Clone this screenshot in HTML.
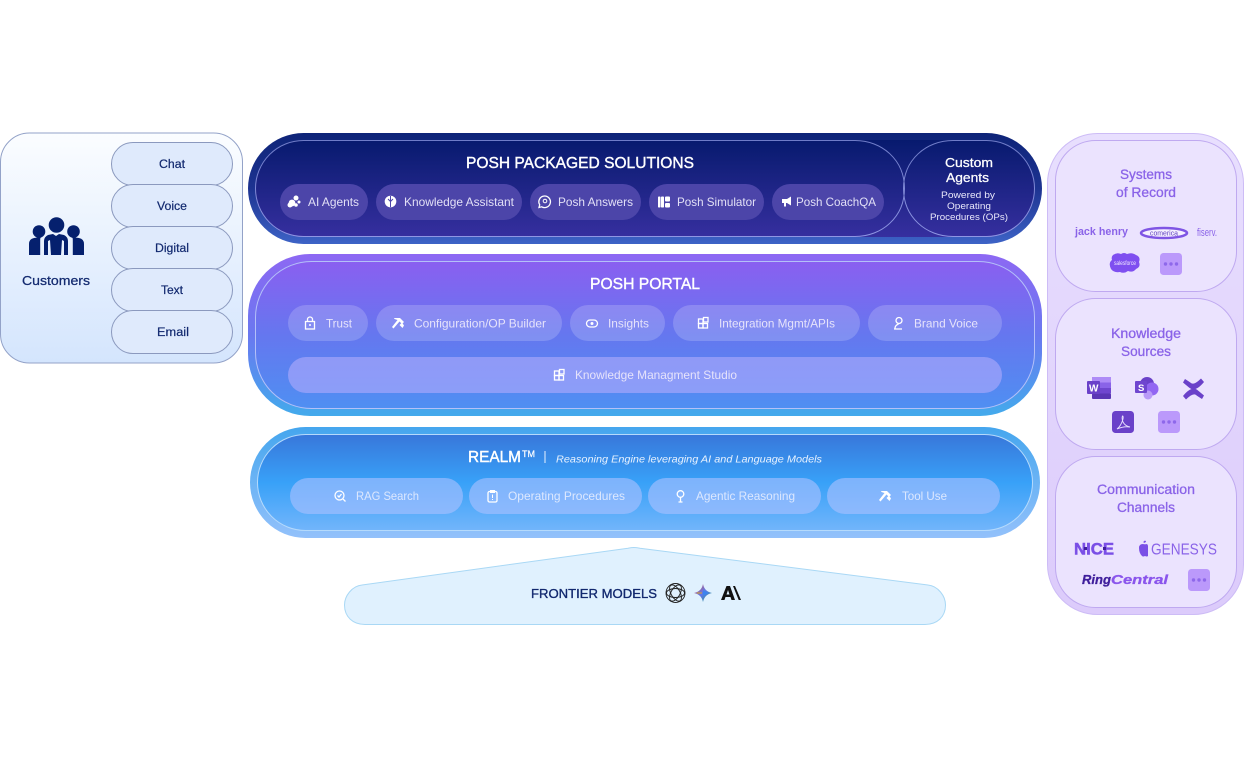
<!DOCTYPE html>
<html><head><meta charset="utf-8"><style>
html,body{margin:0;padding:0;background:#fff;width:1244px;height:758px;overflow:hidden}
svg{display:block;font-family:"Liberation Sans",sans-serif}
.h{fill:#fff;font-size:16px;stroke:#fff;stroke-width:.4}
.c{fill:#e2e0f6;font-size:12px}
.p{fill:#e6e3fb;font-size:12px}
.r{fill:#dce8fe;font-size:12px}
.k{fill:#12296f;font-size:11.5px;stroke:#12296f;stroke-width:.2}
.t{fill:#8a63e8;font-size:13.5px;stroke:#8a63e8;stroke-width:.3}
.chipD{fill:#4c45a9}
.chipP{fill:#fff;fill-opacity:.18}
.chipR{fill:#a9c0ff;fill-opacity:.62}
.ic{fill:none;stroke:#fff;stroke-width:1.3}
</style></head><body>
<svg width="1244" height="758" viewBox="0 0 1244 758" xmlns="http://www.w3.org/2000/svg">
<defs>
<linearGradient id="cu" x1="0" y1="0" x2="0" y2="1"><stop offset="0" stop-color="#fbfdff"/><stop offset="1" stop-color="#d4e5fd"/></linearGradient>
<linearGradient id="d1" x1="0" y1="0" x2="0" y2="1"><stop offset="0" stop-color="#0e2478"/><stop offset=".5" stop-color="#1d3391"/><stop offset="1" stop-color="#3d63c6"/></linearGradient>
<linearGradient id="d2" x1="0" y1="0" x2="0" y2="1"><stop offset="0" stop-color="#071a6e"/><stop offset="1" stop-color="#362f9f"/></linearGradient>
<linearGradient id="ds" gradientUnits="userSpaceOnUse" x1="0" y1="140" x2="0" y2="237"><stop offset="0" stop-color="#6f7cc8"/><stop offset="1" stop-color="#8f96e4"/></linearGradient>
<linearGradient id="p1" x1="0" y1="0" x2="0" y2="1"><stop offset="0" stop-color="#8d68f3"/><stop offset=".5" stop-color="#6a78f0"/><stop offset="1" stop-color="#43aaec"/></linearGradient>
<linearGradient id="p2" x1="0" y1="0" x2="0" y2="1"><stop offset="0" stop-color="#8a5ff0"/><stop offset=".5" stop-color="#6577ef"/><stop offset="1" stop-color="#4f8ff2"/></linearGradient>
<linearGradient id="r1" x1="0" y1="0" x2="0" y2="1"><stop offset="0" stop-color="#45a6ee"/><stop offset="1" stop-color="#93c1fb"/></linearGradient>
<linearGradient id="r2" x1="0" y1="0" x2="0" y2="1"><stop offset="0" stop-color="#3877da"/><stop offset=".5" stop-color="#38a1f8"/><stop offset="1" stop-color="#72b5fb"/></linearGradient>
<linearGradient id="ro" x1="0" y1="0" x2="0" y2="1"><stop offset="0" stop-color="#e8dffe"/><stop offset="1" stop-color="#dccbfb"/></linearGradient>
<linearGradient id="gem" x1="0" y1="0" x2="1" y2="1"><stop offset="0" stop-color="#e0564a"/><stop offset=".5" stop-color="#5f78ea"/><stop offset="1" stop-color="#1f9e7a"/></linearGradient>
</defs>

<!-- Customers -->
<rect x=".5" y="133" width="242" height="230" rx="29" fill="url(#cu)" stroke="#93a2c8"/>
<g fill="#dfeafc" stroke="#8b99be">
<rect x="111.500" y="142.500" width="121" height="43" rx="21.500"/>
<rect x="111.500" y="184.500" width="121" height="43" rx="21.500"/>
<rect x="111.500" y="226.500" width="121" height="43" rx="21.500"/>
<rect x="111.500" y="268.500" width="121" height="43" rx="21.500"/>
<rect x="111.500" y="310.500" width="121" height="43" rx="21.500"/>
</g>
<text class="k" x="159" y="168" textLength="26" lengthAdjust="spacingAndGlyphs">Chat</text>
<text class="k" x="157" y="210" textLength="30" lengthAdjust="spacingAndGlyphs">Voice</text>
<text class="k" x="155" y="252" textLength="34" lengthAdjust="spacingAndGlyphs">Digital</text>
<text class="k" x="161" y="294" textLength="22" lengthAdjust="spacingAndGlyphs">Text</text>
<text class="k" x="157" y="336" textLength="32" lengthAdjust="spacingAndGlyphs">Email</text>
<g fill="#05206e">
<circle cx="39" cy="231.500" r="6.300"/><circle cx="56.500" cy="225" r="7.800"/><circle cx="73.500" cy="231.500" r="6.300"/>
<path d="M29 255v-11q0-5 5-6l7-1q-.8 1-.8 3v15zM84 255v-11q0-5-5-6l-7-1q.8 1 .8 3v15z"/>
<path d="M44 255v-14q0-4 4-6l5-1 3 2 3-2 5 1q4 2 4 6v14h-4v-14l-2-1-1 15h-10l-1-15-2 1v14z"/>
</g>
<text x="22" y="285" fill="#12296f" font-size="13" stroke="#12296f" stroke-width=".25" textLength="68" lengthAdjust="spacingAndGlyphs">Customers</text>

<!-- Packaged Solutions -->
<rect x="248" y="133" width="794" height="111" rx="55.500" fill="url(#d1)"/>
<rect x="255" y="140" width="780" height="97" rx="48.500" fill="url(#d2)"/>
<path d="M904.500 188.500C904.500 160 882 140.500 855 140.500H303.500A48 48 0 0 0 303.500 236.500H855C882 236.500 904.500 217 904.500 188.500Z" fill="none" stroke="url(#ds)" stroke-width="1"/>
<path d="M903.500 188.500C903.500 160 926 140.500 953 140.500H986.500A48 48 0 0 1 986.500 236.500H953C926 236.500 903.500 217 903.500 188.500Z" fill="none" stroke="url(#ds)" stroke-width="1"/>
<text class="h" x="466" y="168" textLength="228" lengthAdjust="spacingAndGlyphs">POSH PACKAGED SOLUTIONS</text>
<rect class="chipD" x="280" y="184" width="88" height="36" rx="18"/>
<rect class="chipD" x="376" y="184" width="146" height="36" rx="18"/>
<rect class="chipD" x="530" y="184" width="111" height="36" rx="18"/>
<rect class="chipD" x="649" y="184" width="115" height="36" rx="18"/>
<rect class="chipD" x="772" y="184" width="112" height="36" rx="18"/>
<text class="c" x="308" y="206" textLength="51" lengthAdjust="spacingAndGlyphs">AI Agents</text>
<text class="c" x="404" y="206" textLength="110" lengthAdjust="spacingAndGlyphs">Knowledge Assistant</text>
<text class="c" x="558" y="206" textLength="75" lengthAdjust="spacingAndGlyphs">Posh Answers</text>
<text class="c" x="677" y="206" textLength="79" lengthAdjust="spacingAndGlyphs">Posh Simulator</text>
<text class="c" x="796" y="206" textLength="80" lengthAdjust="spacingAndGlyphs">Posh CoachQA</text>
<g fill="#fff">
<circle cx="296" cy="198" r="2.500"/><circle cx="292" cy="203" r="3.400"/><circle cx="296" cy="205" r="1.800"/><circle cx="290" cy="205" r="2.500"/><circle cx="299" cy="202" r="1.500"/>
<circle cx="390.500" cy="201.500" r="5.800"/><rect x="661" y="196.500" width="3" height="11" rx=".8"/><rect x="658" y="196.500" width="2.500" height="11" rx=".8"/>
<rect x="665" y="196.500" width="5" height="5" rx="1"/><rect x="665" y="203" width="5" height="4.500" rx="1"/>
<path d="M782 199h5l4-2.500v9l-4-2.500h-1v3.500h-2v-3.500h-2z"/>
</g>
<path d="M390.500 196v11M388 199l2.500 2.500 2.500-2.500" stroke="#4c44aa" stroke-width="1" fill="none"/>
<path d="M544.500 196a5.800 5.800 0 1 1-2.800 10.800l-2.700.7.700-2.700A5.800 5.800 0 0 1 544.500 196z" class="ic"/>
<circle cx="545" cy="201" r="1.800" fill="none" stroke="#fff"/>
<text x="945" y="167" fill="#fff" font-size="13" stroke="#fff" stroke-width=".25" textLength="48" lengthAdjust="spacingAndGlyphs">Custom</text>
<text x="946" y="182" fill="#fff" font-size="13" stroke="#fff" stroke-width=".25" textLength="43" lengthAdjust="spacingAndGlyphs">Agents</text>
<text x="941" y="198" fill="#e9e8fb" font-size="9.500" textLength="54" lengthAdjust="spacingAndGlyphs">Powered by</text>
<text x="947" y="209" fill="#e9e8fb" font-size="9.500" textLength="44" lengthAdjust="spacingAndGlyphs">Operating</text>
<text x="930" y="220" fill="#e9e8fb" font-size="9.500" textLength="78" lengthAdjust="spacingAndGlyphs">Procedures (OPs)</text>

<!-- Portal -->
<rect x="248" y="254" width="794" height="162" rx="62" fill="url(#p1)"/>
<rect x="255.500" y="261.500" width="779" height="147" rx="56" fill="url(#p2)" stroke="#b4c0f8" stroke-width="1"/>
<text class="h" x="590" y="289" textLength="110" lengthAdjust="spacingAndGlyphs">POSH PORTAL</text>
<rect class="chipP" x="288" y="305" width="80" height="36" rx="18"/>
<rect class="chipP" x="376" y="305" width="186" height="36" rx="18"/>
<rect class="chipP" x="570" y="305" width="95" height="36" rx="18"/>
<rect class="chipP" x="673" y="305" width="187" height="36" rx="18"/>
<rect class="chipP" x="868" y="305" width="134" height="36" rx="18"/>
<rect x="288" y="357" width="714" height="36" rx="18" fill="#aeaafc" fill-opacity=".62"/>
<text class="p" x="326" y="327.500" textLength="26" lengthAdjust="spacingAndGlyphs">Trust</text>
<text class="p" x="414" y="327.500" textLength="132" lengthAdjust="spacingAndGlyphs">Configuration/OP Builder</text>
<text class="p" x="608" y="327.500" textLength="41" lengthAdjust="spacingAndGlyphs">Insights</text>
<text class="p" x="719" y="327.500" textLength="116" lengthAdjust="spacingAndGlyphs">Integration Mgmt/APIs</text>
<text class="p" x="914" y="327.500" textLength="64" lengthAdjust="spacingAndGlyphs">Brand Voice</text>
<text class="p" x="575" y="379" textLength="162" lengthAdjust="spacingAndGlyphs">Knowledge Managment Studio</text>
<rect x="305.500" y="321.500" width="9" height="7.500" class="ic" stroke-width="1.100"/><path d="M307.500 321.500v-2a2.500 2.500 0 0 1 5 0v2" class="ic"/><circle cx="310" cy="325" r="1" fill="#fff"/>
<g fill="#fff"><path d="M394 318h6l4 4-2 2-2.500-2.500-6 7-1.500-1.500 5.500-7-3-1z"/><path d="M399.500 325l3 3 1.500-2.500-2-3z"/></g>
<rect x="586.500" y="320" width="11" height="7" rx="3.500" class="ic"/><circle cx="592" cy="323.500" r="1.500" fill="#fff"/>
<g class="ic" stroke-width="1.100"><rect x="698.500" y="323.500" width="4.500" height="4.500"/><rect x="703" y="323.500" width="4.500" height="4.500"/><rect x="698.500" y="319" width="4.500" height="4.500"/><rect x="703.500" y="317.500" width="4.500" height="4.500"/></g>
<circle cx="899" cy="320.500" r="3" class="ic"/><path d="M895 328.500c0-3 2-3.500 4-5M894 329h8" class="ic"/>
<g class="ic" stroke-width="1.100"><rect x="554.500" y="375.500" width="4.500" height="4.500"/><rect x="559" y="375.500" width="4.500" height="4.500"/><rect x="554.500" y="371" width="4.500" height="4.500"/><rect x="559.500" y="369.500" width="4.500" height="4.500"/></g>

<!-- Realm -->
<rect x="250" y="427" width="790" height="111" rx="55.500" fill="url(#r1)"/>
<rect x="257.500" y="434.500" width="775" height="96" rx="48" fill="url(#r2)" stroke="#b5dafc" stroke-width="1"/>
<text class="h" x="468" y="462" textLength="53" lengthAdjust="spacingAndGlyphs">REALM</text>
<text x="522" y="457" fill="#fff" font-size="9.500" stroke="#fff" stroke-width=".2" textLength="13" lengthAdjust="spacingAndGlyphs">TM</text>
<rect x="544.500" y="451" width="1" height="12" fill="#e8f2ff"/>
<text x="556" y="462.500" fill="#e8f2ff" font-size="10.500" font-style="italic" textLength="266" lengthAdjust="spacingAndGlyphs">Reasoning Engine leveraging AI and Language Models</text>
<rect class="chipR" x="290" y="478" width="173" height="36" rx="18"/>
<rect class="chipR" x="469" y="478" width="173" height="36" rx="18"/>
<rect class="chipR" x="648" y="478" width="173" height="36" rx="18"/>
<rect class="chipR" x="827" y="478" width="173" height="36" rx="18"/>
<text class="r" x="356" y="500" textLength="63" lengthAdjust="spacingAndGlyphs">RAG Search</text>
<text class="r" x="508" y="500" textLength="117" lengthAdjust="spacingAndGlyphs">Operating Procedures</text>
<text class="r" x="696" y="500" textLength="99" lengthAdjust="spacingAndGlyphs">Agentic Reasoning</text>
<text class="r" x="902" y="500" textLength="45" lengthAdjust="spacingAndGlyphs">Tool Use</text>
<circle cx="339.500" cy="495.500" r="4.500" class="ic"/><path d="M343 499l2.500 2.500M337.500 495.500l1.500 1.500 2.500-3" class="ic" stroke-width="1"/>
<rect x="488" y="491.500" width="9" height="10.500" rx="1.500" class="ic"/><rect x="490" y="490" width="5" height="3" fill="#fff"/><path d="M492.500 494.500v3.500M492.500 499v1" stroke="#fff"/>
<circle cx="680.500" cy="494" r="3.300" class="ic"/><path d="M680.500 497.500v4M678.500 502h4" class="ic"/>
<path d="M881 491h6l4 4-2 2-2.500-2.500-6 7-1.500-1.500 5.500-7-3-1z" fill="#fff"/><path d="M886.500 498l3 3 1.500-2.500-2-3z" fill="#fff"/>

<!-- Frontier -->
<path d="M634 547.500Q636 547.500 640 548.200L928 585C938 586 945.500 596 945.500 605C945.500 617 937 624.500 925 624.500H365C353 624.500 344.500 617 344.500 605C344.500 596 352 586 362 585L628 548.200Q632 547.500 634 547.500Z" fill="#e0f1fe" stroke="#a9d8f5"/>
<text x="531" y="598" fill="#12296f" font-size="13" stroke="#12296f" stroke-width=".35" textLength="126" lengthAdjust="spacingAndGlyphs">FRONTIER MODELS</text>
<g fill="none" stroke="#222" stroke-width=".9">
<circle cx="675.500" cy="593" r="9.500"/><ellipse cx="675.500" cy="593" rx="9" ry="4.500" transform="rotate(60 675.500 593)"/><ellipse cx="675.500" cy="593" rx="9" ry="4.500" transform="rotate(-60 675.500 593)"/><ellipse cx="675.500" cy="593" rx="9" ry="4.500"/>
</g>
<path d="M703 584q1.500 7.500 9 9q-7.500 1.500-9 9q-1.500-7.500-9-9q7.500-1.500 9-9z" fill="url(#gem)"/>
<path d="M697 592.500h5v1h-5z" fill="#d9a92c"/><path d="M703 590l6 3-6 3z" fill="#3c84ee"/>
<path d="M721 600l5.500-14h3.500l5 14h-3.500l-1-3h-5l-1 3zM726.500 594.500h3l-1.500-4.500zM733 586h2l6 14h-2.300z" fill="#111"/>

<!-- Right -->
<rect x="1047.500" y="133.500" width="196" height="481" rx="50" fill="url(#ro)" stroke="#cdbcf6"/>
<g fill="#ebe3fe" stroke="#bfa9f0">
<rect x="1055.500" y="140.500" width="181" height="151" rx="40"/>
<rect x="1055.500" y="298.500" width="181" height="151" rx="40"/>
<rect x="1055.500" y="456.500" width="181" height="151" rx="40"/>
</g>
<text class="t" x="1120" y="179" textLength="52" lengthAdjust="spacingAndGlyphs">Systems</text>
<text class="t" x="1116" y="197" textLength="60" lengthAdjust="spacingAndGlyphs">of Record</text>
<text class="t" x="1111" y="338" textLength="70" lengthAdjust="spacingAndGlyphs">Knowledge</text>
<text class="t" x="1121" y="356" textLength="50" lengthAdjust="spacingAndGlyphs">Sources</text>
<text class="t" x="1097" y="494" textLength="98" lengthAdjust="spacingAndGlyphs">Communication</text>
<text class="t" x="1117" y="512" textLength="58" lengthAdjust="spacingAndGlyphs">Channels</text>

<text x="1075" y="235" fill="#8a63e8" font-size="11" font-weight="700" textLength="53" lengthAdjust="spacingAndGlyphs">jack henry</text>
<ellipse cx="1164" cy="233" rx="23" ry="5" fill="#f5f0ff" stroke="#7f55e4" stroke-width="2.500"/>
<text x="1150" y="235.500" fill="#5f3fc0" font-size="7" textLength="28" lengthAdjust="spacingAndGlyphs">comerica</text>
<text x="1197" y="236" fill="#8a63e8" font-size="11" textLength="20" lengthAdjust="spacingAndGlyphs">fiserv.</text>
<path d="M1113 255q4-3 8-1q3-2 6 0q5-2 9 1q5 2 3 7q2 5-3 7q-3 4-8 2q-4 3-8 1q-6 1-9-3q-3-6 1-9q-1-3 1-5z" fill="#7f4ff0"/>
<text x="1114" y="265" fill="#f1eaff" font-size="6" textLength="22" lengthAdjust="spacingAndGlyphs">salesforce</text>
<rect x="1160" y="253" width="22" height="22" rx="3.500" fill="#bb99fb"/>
<g fill="#8e68ea"><circle cx="1165.500" cy="264" r="1.700"/><circle cx="1171" cy="264" r="1.700"/><circle cx="1176.500" cy="264" r="1.700"/></g>

<!-- word -->
<rect x="1092" y="377" width="19" height="5.500" fill="#ae8bf7"/><rect x="1092" y="382.500" width="19" height="5.500" fill="#8a63e8"/><rect x="1092" y="388" width="19" height="5.500" fill="#6f46cf"/><rect x="1092" y="393.500" width="19" height="5.500" rx="1" fill="#5a36b5"/>
<rect x="1087" y="381" width="13" height="13" rx="1" fill="#6a41c9"/>
<text x="1089" y="391.500" fill="#fff" font-size="10" font-weight="700">W</text>
<!-- sharepoint -->
<circle cx="1147" cy="384" r="7" fill="#6a41c9"/><circle cx="1152" cy="389" r="6.500" fill="#9266f2"/><circle cx="1148" cy="395" r="4.500" fill="#b99af8"/>
<rect x="1135" y="381" width="12" height="12" rx="1" fill="#6f46cf"/>
<text x="1138" y="391" fill="#fff" font-size="9.500" font-weight="700">S</text>
<!-- confluence -->
<path d="M1183 396q9-11 15-5.500q3 2.500 6 5l-2 3.500q-4-2.500-6-4q-3-2.500-10 4.500zM1204 382q-9 11-15 5.500q-3-2.500-6-5l2-3.500q4 2.500 6 4q3 2.500 10-4.500z" fill="#6a41c9"/>
<!-- pdf -->
<rect x="1112" y="411" width="22" height="22" rx="3.500" fill="#6a41c9"/>
<path d="M1117 429q4-3 6-10q.5-3-.5-3q-1 2 .5 6q2 4 7 5q-6-1-13 2z" fill="none" stroke="#e9e0ff" stroke-width=".9"/>
<rect x="1158" y="411" width="22" height="22" rx="3.500" fill="#bb99fb"/>
<g fill="#8e68ea"><circle cx="1163.500" cy="422" r="1.700"/><circle cx="1169" cy="422" r="1.700"/><circle cx="1174.500" cy="422" r="1.700"/></g>

<!-- comm -->
<text x="1074" y="554.500" fill="#7a4fe6" font-size="17" font-weight="700" stroke="#7a4fe6" stroke-width=".5" textLength="40" lengthAdjust="spacingAndGlyphs">NICE</text>
<rect x="1084" y="547" width="3" height="3" fill="#3f1e9c"/><rect x="1103" y="547" width="3" height="3" fill="#3f1e9c"/>
<path d="M1144 541q2-1 2 1l-2 1q-1-1 0-2zM1139 548q0-4 4-4q2 .5 4 0q1 1 1 2v10q-1 1-3 0q-2 1-3 0q-3-3-3-8z" fill="#7a4fe6"/>
<text x="1151" y="554.500" fill="#8a63e8" font-size="15.500" textLength="66" lengthAdjust="spacingAndGlyphs">GENESYS</text>
<text x="1082" y="584" fill="#3f1e9c" font-size="13" font-weight="700" font-style="italic" stroke="#3f1e9c" stroke-width=".3" textLength="29" lengthAdjust="spacingAndGlyphs">Ring</text>
<text x="1111" y="584" fill="#8a55ec" font-size="13" font-weight="700" font-style="italic" stroke="#8a55ec" stroke-width=".3" textLength="57" lengthAdjust="spacingAndGlyphs">Central</text>
<rect x="1188" y="569" width="22" height="22" rx="3.500" fill="#bb99fb"/>
<g fill="#8e68ea"><circle cx="1193.500" cy="580" r="1.700"/><circle cx="1199" cy="580" r="1.700"/><circle cx="1204.500" cy="580" r="1.700"/></g>
</svg>
</body></html>
